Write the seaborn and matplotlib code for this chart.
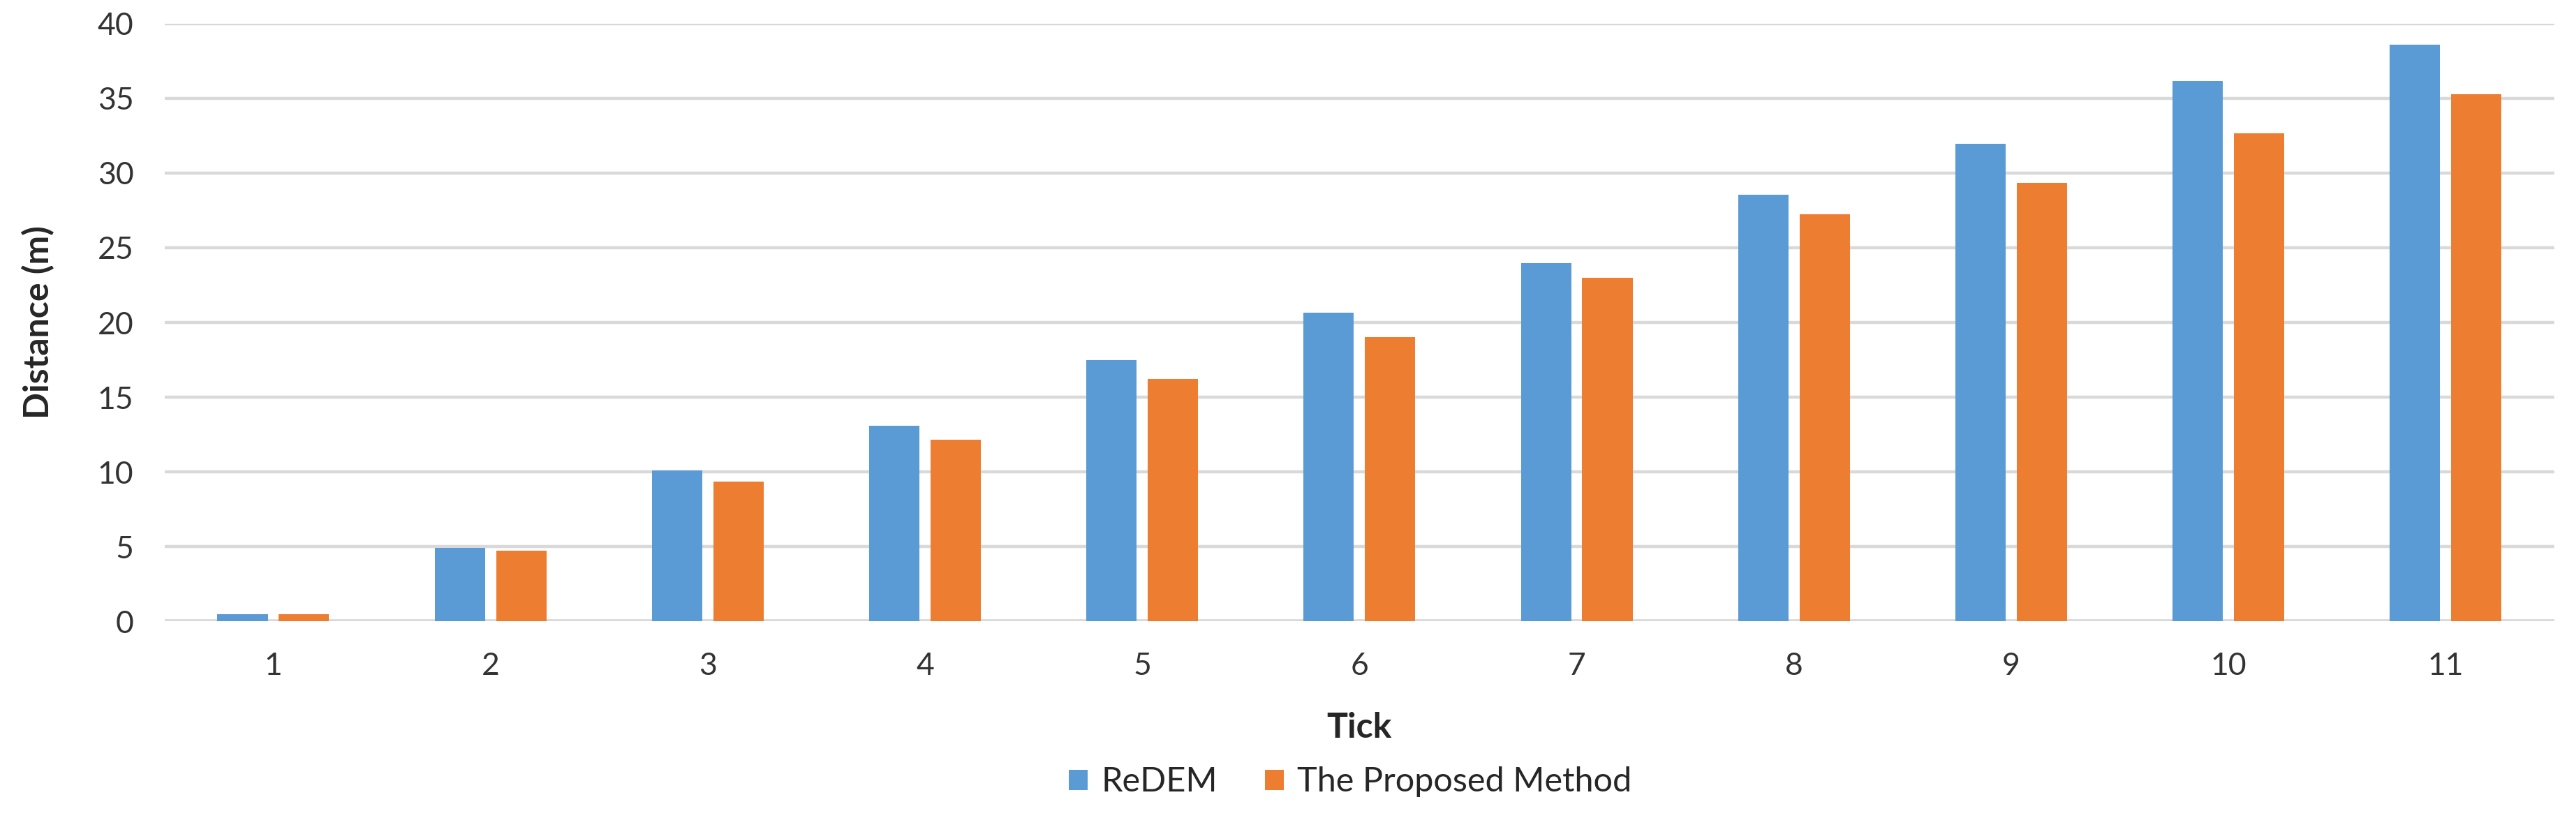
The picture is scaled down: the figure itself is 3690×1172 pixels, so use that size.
import matplotlib.pyplot as plt
import seaborn as sns
import pandas as pd
import numpy as np

# values
ticks = ["1", "2", "3", "4", "5", "6", "7", "8", "9", "10", "11"]
redem = [0.46, 4.91, 10.09, 13.07, 17.5, 20.64, 23.95, 28.57, 31.95, 36.19, 38.61]
proposed = [0.46, 4.72, 9.35, 12.14, 16.2, 19.0, 23.0, 27.25, 29.33, 32.67, 35.26]
series_names = ["ReDEM", "The Proposed Method"]
colors = ["#5B9BD5", "#ED7D31"]

df = pd.DataFrame({
    "Tick": ticks * 2,
    "Distance": redem + proposed,
    "Method": [series_names[0]] * len(ticks) + [series_names[1]] * len(ticks),
})

sns.set_style("white")
plt.rcParams['font.family'] = ['Lato', 'DejaVu Sans']

fig = plt.figure(figsize=(18.455, 5.86), dpi=200)
ax = fig.add_axes([0.0639, 0.2406, 0.9274, 0.7304])

sns.barplot(data=df, x="Tick", y="Distance", hue="Method", order=ticks,
            hue_order=series_names, palette=colors, width=0.565, gap=0.18,
            saturation=1, edgecolor="none", ax=ax, legend=True)

ax.set_ylim(0, 40)
ax.set_xlim(-0.5, len(ticks) - 0.5)
ax.set_yticks(np.arange(0, 41, 5))
ax.yaxis.grid(True, color="#D9D9D9", linewidth=1.6)
ax.set_axisbelow(True)
for s in ax.spines.values():
    s.set_visible(False)
ax.axhline(0, color="#D9D9D9", linewidth=2, zorder=0)

ax.tick_params(axis="both", length=0, labelsize=16, labelcolor="#333333")
ax.tick_params(axis="y", pad=16)
ax.tick_params(axis="x", pad=16)

# label coords: x label is top-aligned, y label is anchored on its right side
ax.set_xlabel("Tick", fontsize=18, fontweight="bold")
ax.set_ylabel("Distance (m)", fontsize=18, fontweight="bold")
ax.xaxis.set_label_coords(0.5, -0.152)
ax.yaxis.set_label_coords(-0.046, 0.5)

handles, labels = ax.get_legend_handles_labels()
ax.get_legend().remove()
fig.legend(handles, labels, loc="center", bbox_to_anchor=(0.524, 0.044), ncol=2,
           frameon=False, fontsize=17.5, handlelength=0.55, handleheight=0.55,
           columnspacing=1.4, handletextpad=0.4)

fig.savefig("out.png", dpi=200)
